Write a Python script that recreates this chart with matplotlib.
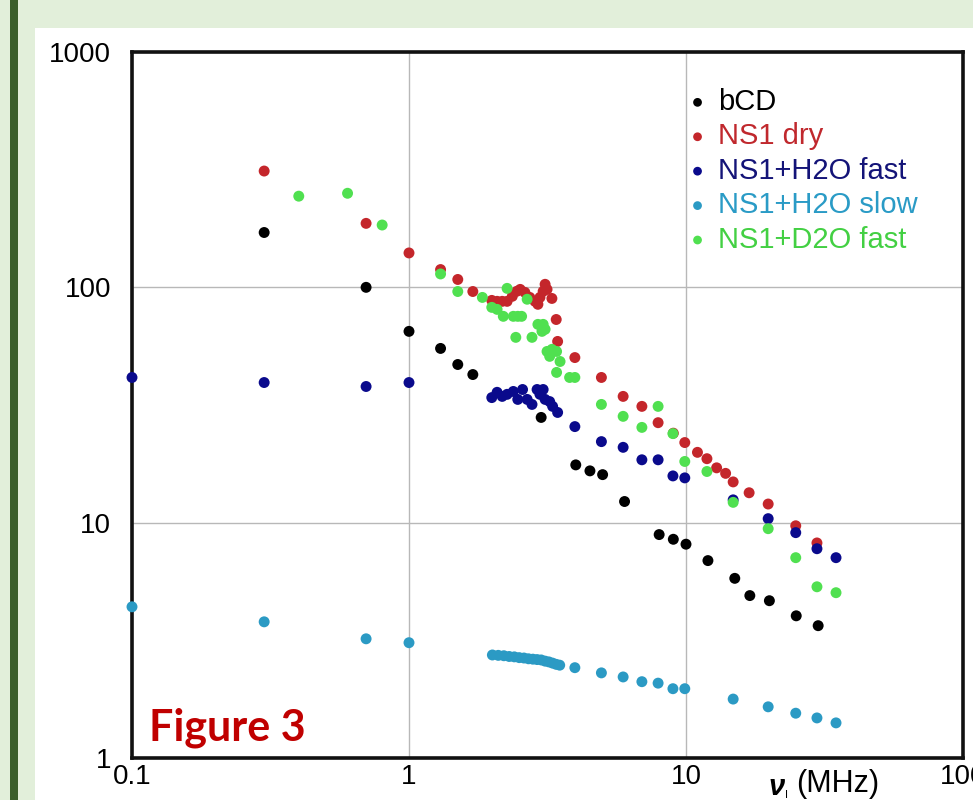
import matplotlib
matplotlib.use("Agg")
import matplotlib.pyplot as plt
from matplotlib.patches import Rectangle
from matplotlib.ticker import FixedLocator, NullLocator

# ---------------- data ----------------
bcd_x = [0.3, 0.7, 1.0, 1.3, 1.5, 1.7, 3.0, 4.0, 4.5, 5.0, 6.0, 8.0, 9.0, 10.0,
         12.0, 15.0, 17.0, 20.0, 25.0, 30.0]
bcd_y = [171, 100, 65, 55, 47, 42.6, 28, 17.6, 16.6, 16, 12.3, 8.9, 8.5, 8.1,
         6.9, 5.8, 4.9, 4.66, 4.02, 3.65]

dry_x = [0.3, 0.7, 1.0, 1.3, 1.5, 1.7, 1.99, 2.08, 2.17, 2.26, 2.36, 2.45, 2.52,
         2.62, 2.73, 2.85, 2.92, 2.97, 3.05, 3.10, 3.15, 3.28, 3.40, 3.44, 3.97,
         4.95, 5.93, 6.93, 7.93, 9.0, 9.9, 11.0, 11.9, 12.9, 13.9, 14.8, 16.9,
         19.8, 24.9, 29.7]
dry_y = [312, 187, 140, 119, 108, 96, 88, 87.2, 87.2, 87.2, 91.6, 96.2, 98,
         95.2, 90.6, 87.2, 84.7, 90.6, 96.2, 103, 98, 89.7, 73, 58.9, 50.3,
         41.4, 34.4, 31.2, 26.6, 24, 21.9, 19.9, 18.7, 17.1, 16.2, 14.9, 13.4,
         12.0, 9.7, 8.2]

h2of_x = [0.1, 0.3, 0.7, 1.0, 1.99, 2.08, 2.17, 2.26, 2.38, 2.47, 2.57, 2.67,
          2.78, 2.90, 2.97, 3.05, 3.10, 3.22, 3.30, 3.44, 3.97, 4.95, 5.93,
          6.93, 7.93, 8.97, 9.9, 14.8, 19.8, 24.9, 29.7, 34.8]
h2of_y = [41.4, 39.4, 37.9, 39.4, 34.0, 35.8, 34.4, 35.1, 36.1, 33.4, 36.8,
          33.4, 31.8, 36.8, 35.1, 36.8, 33.4, 32.7, 31.2, 29.4, 25.6, 22.1,
          20.9, 18.5, 18.5, 15.8, 15.5, 12.5, 10.4, 9.07, 7.75, 7.1]

h2os_x = [0.1, 0.3, 0.7, 1.0, 2.0, 2.1, 2.2, 2.3, 2.4, 2.5, 2.6, 2.7, 2.8, 2.9,
          3.0, 3.1, 3.2, 3.3, 3.4, 3.5, 3.97, 4.95, 5.93, 6.93, 7.93, 8.97,
          9.9, 14.8, 19.8, 24.9, 29.7, 34.8]
h2os_y = [4.39, 3.79, 3.21, 3.09, 2.74, 2.73, 2.72, 2.70, 2.69, 2.67, 2.66,
          2.64, 2.63, 2.62, 2.61, 2.58, 2.56, 2.53, 2.50, 2.48, 2.42, 2.30,
          2.21, 2.11, 2.08, 1.97, 1.97, 1.78, 1.65, 1.55, 1.48, 1.41]

d2o_x = [0.4, 0.6, 0.8, 1.3, 1.5, 1.84, 1.99, 2.08, 2.19, 2.26, 2.38, 2.47,
         2.55, 2.67, 2.43, 2.78, 2.92, 3.05, 3.02, 3.10, 3.15, 3.28, 3.41,
         3.22, 3.51, 3.41, 3.8, 3.97, 4.95, 5.93, 6.93, 7.93, 8.97, 9.9, 11.9,
         14.8, 19.8, 24.9, 29.7, 34.8]
d2o_y = [244, 251, 184, 114, 96, 90.6, 82.2, 80.6, 75.3, 99, 75.3, 75.3, 75.3,
         89, 61.3, 61.3, 69.6, 69.6, 65, 66.3, 53.4, 54.5, 53.4, 50.9, 48.4,
         43.5, 41.4, 41.4, 31.8, 28.3, 25.4, 31.2, 23.9, 18.2, 16.5, 12.2,
         9.43, 7.1, 5.34, 5.04]

series_labels = ["bCD", "NS1 dry", "NS1+H2O fast", "NS1+H2O slow", "NS1+D2O fast"]
x_ticks = [0.1, 1, 10, 100]
x_tick_labels = ["0.1", "1", "10", "100"]
y_ticks = [1, 10, 100, 1000]
y_tick_labels = ["1", "10", "100", "1000"]

# ---------------- styling ----------------
colors = ["#000000", "#c4262b", "#0a0a8c", "#2b9ac4", "#50e050"]
label_colors = ["#000000", "#c0282d", "#141478", "#2a9bc6", "#43d043"]

W, H = 973, 800
fig = plt.figure(figsize=(W / 100, H / 100), dpi=100)
fig.patch.set_facecolor("#e2efda")
fig.patches.append(Rectangle((35 / W, 0), 1 - 35 / W, 1 - 28 / H,
                             transform=fig.transFigure, facecolor="white",
                             edgecolor="none", zorder=-10))
fig.patches.append(Rectangle((10 / W, 0), 8 / W, 1,
                             transform=fig.transFigure, facecolor="#3b5e2b",
                             edgecolor="none", zorder=-10))

left, right, top, bottom = 132, 963, 52, 758
ax = fig.add_axes([left / W, 1 - bottom / H, (right - left) / W, (bottom - top) / H])
ax.set_zorder(1)
ax.set_facecolor("white")
ax.set_xscale("log")
ax.set_yscale("log")
ax.set_xlim(0.1, 100)
ax.set_ylim(1, 1000)

ax.xaxis.set_major_locator(FixedLocator(x_ticks))
ax.yaxis.set_major_locator(FixedLocator(y_ticks))
ax.xaxis.set_minor_locator(NullLocator())
ax.yaxis.set_minor_locator(NullLocator())
ax.set_xticklabels(x_tick_labels, fontsize=20, family="Liberation Sans")
ax.set_yticklabels(y_tick_labels, fontsize=20, family="Liberation Sans")
ax.tick_params(axis="x", length=0, pad=4)
ax.tick_params(axis="y", length=0, pad=15)
ax.grid(True, which="major", color="#b8b8b8", lw=1.0)
ax.set_axisbelow(True)
for s in ax.spines.values():
    s.set_linewidth(2.6)
    s.set_color("#111111")

data = [(bcd_x, bcd_y), (dry_x, dry_y), (h2of_x, h2of_y), (h2os_x, h2os_y), (d2o_x, d2o_y)]
for (xs, ys), c, lab in zip(data, colors, series_labels):
    ax.scatter(xs, ys, s=62, color=c, edgecolors="none", label=lab, zorder=3,
               clip_on=False)

leg = ax.legend(loc="upper left", bbox_to_anchor=(0.663, 0.949), frameon=False,
                prop={"family": "Liberation Sans", "size": 21},
                labelspacing=0.22, handletextpad=0.2, handlelength=1.0,
                borderpad=0, borderaxespad=0,
                markerscale=0.8, labelcolor=label_colors)

ax.text(0.02, 0.043, "Figure 3", transform=ax.transAxes, fontsize=31,
        fontweight="bold", family="Lato", color="#c00000", va="center", ha="left")

# x-axis label pieces
fig.text(769 / W, 1 - 787 / H, "ν", fontsize=21, fontweight="bold", style="italic",
         family="Liberation Sans", ha="left", va="center")
fig.text(785 / W, 1 - 795 / H, "I", fontsize=8, family="Liberation Sans",
         ha="left", va="center")
fig.text(796 / W, 1 - 784 / H, "(MHz)", fontsize=22, family="Liberation Sans",
         ha="left", va="center")

fig.savefig("out.png", dpi=100, facecolor=fig.get_facecolor())
